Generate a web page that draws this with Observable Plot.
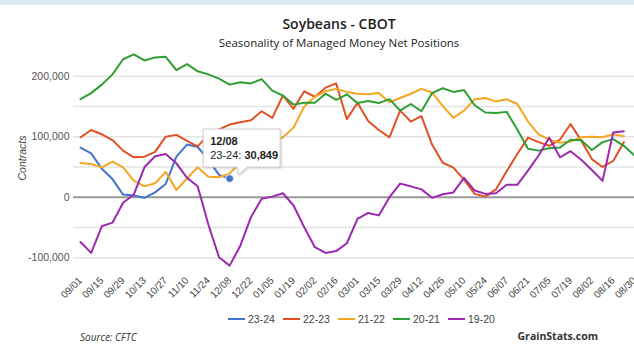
<!DOCTYPE html>
<html><head><meta charset="utf-8">
<script src="https://cdn.jsdelivr.net/npm/d3@7"></script>
<script src="https://cdn.jsdelivr.net/npm/@observablehq/plot@0.6"></script>
<style>
body{margin:0;background:#fff;}
#wrap{position:relative;width:634px;height:358px;overflow:hidden;font-family:"Open Sans",sans-serif;background:#fff;}
#band{position:absolute;left:0;top:0;width:634px;height:5px;background:#dfe9f6;}
#title{position:absolute;top:15px;left:0;width:634px;padding-left:44px;box-sizing:border-box;text-align:center;font-size:14px;font-weight:600;color:#222;line-height:18px;}
#subtitle{position:absolute;top:35px;left:0;width:634px;padding-left:44px;box-sizing:border-box;text-align:center;font-size:11.5px;color:#222;line-height:16px;}
#chart{position:absolute;left:0;top:40px;}
#legend{position:absolute;top:313px;left:228px;display:flex;align-items:center;font-family:"Liberation Sans",Arial,sans-serif;font-size:10.5px;color:#444;}
#legend .it{display:flex;align-items:center;width:55px;}
#legend .sw{width:17px;height:2px;margin-right:3px;}
#source{position:absolute;top:330px;left:80px;font-style:italic;font-size:10px;color:#333;}
#brand{position:absolute;top:329px;right:36px;font-weight:700;font-size:10.5px;color:#333;}
#ylab{position:absolute;left:15px;top:152px;transform:rotate(-90deg);transform-origin:center;font-family:"Liberation Sans",Arial,sans-serif;font-style:italic;font-size:10.5px;color:#444;width:60px;margin-left:-23px;text-align:center;}
</style></head>
<body>
<div id="wrap">
  <div id="band"></div>
  <div id="title">Soybeans - CBOT</div>
  <div id="subtitle">Seasonality of Managed Money Net Positions</div>
  <div id="ylab">Contracts</div>
  <div id="chart"></div>
  <div id="legend"></div>
  <div id="source">Source: CFTC</div>
  <div id="brand">GrainStats.com</div>
</div>
<script>
const dates = ["09/01","09/08","09/15","09/22","09/29","10/06","10/13","10/20","10/27","11/03","11/10","11/17","11/24","12/01","12/08","12/15","12/22","12/29","01/05","01/12","01/19","01/26","02/02","02/09","02/16","02/23","03/01","03/08","03/15","03/22","03/29","04/05","04/12","04/19","04/26","05/03","05/10","05/17","05/24","05/31","06/07","06/14","06/21","06/28","07/05","07/12","07/19","07/26","08/02","08/09","08/16","08/23","08/30"];
const tickLabels = ["09/01","09/15","09/29","10/13","10/27","11/10","11/24","12/08","12/22","01/05","01/19","02/02","02/16","03/01","03/15","03/29","04/12","04/26","05/10","05/24","06/07","06/21","07/05","07/19","08/02","08/16","08/30"];
const yTicks = [-100000, 0, 100000, 200000];
const seriesNames = ["23-24","22-23","21-22","20-21","19-20"];

const s2324 = [82000,72500,47000,30000,4400,2700,-1000,8000,22000,67000,87000,83000,62000,37000,30849];
const s2223 = [99000,111000,104000,94500,77000,66000,67000,75000,100000,103000,93000,84000,103000,112000,120000,124000,127000,142000,131000,168000,146000,175000,166000,181000,188000,129000,156000,126000,111000,99000,143000,125000,134000,87000,57000,49000,29000,5500,1000,13000,43000,71500,98500,91000,85000,95000,121000,93500,63000,50000,60000,91000];
const s2122 = [56600,55000,49500,59000,49500,27500,18000,23000,42000,12000,31000,49500,34000,33000,39000,58000,72000,84000,92000,99000,115000,150000,166000,175000,179000,174000,171000,170000,172000,157000,164000,171000,179000,173000,151000,131000,143000,162000,164000,158000,162000,154000,125000,104000,95000,90000,92000,99000,100000,99000,104000,100600];
const s2021 = [162000,172000,186000,203000,228000,236000,226000,231000,232000,210000,220000,208000,203000,196000,186000,190000,188000,195000,176000,168000,153000,156000,156000,171000,161000,170000,155500,159000,155500,162000,143000,154000,142000,172000,180000,174000,177000,152000,140000,139000,141000,112000,80000,77000,81000,82000,95000,94000,78000,91000,96000,85000,69000];
const s1920 = [-74000,-92000,-48000,-42000,-9000,4400,49500,67600,71400,56000,32000,18000,-45000,-99000,-113000,-80000,-33000,-2600,1000,6600,-13700,-49500,-82500,-92000,-89000,-76000,-35700,-26000,-30000,0,22500,18000,13000,-1000,5000,8000,32000,11000,5500,6600,20500,20500,44000,69000,98500,66000,76000,62000,45000,27000,107000,109000];

const tipSeries = "23-24";
const tipDate = "12/08";

const seriesValues = [s2324, s2223, s2122, s2021, s1920];
const colors = ["#4374cf","#e05226","#f5a623","#2f9e33","#9b2aae"];

const rows = [];
seriesNames.forEach((name, k) => {
  seriesValues[k].forEach((v, i) => rows.push({series: name, date: dates[i], value: v}));
});

const lineMarks = seriesNames.map((name, k) =>
  Plot.line(rows.filter(r => r.series === name), {x: "date", y: "value", stroke: colors[k], strokeWidth: 2})
);
const tipRow = rows.find(r => r.series === tipSeries && r.date === tipDate);
const fmt = v => v.toLocaleString("en-US");

const plot = Plot.plot({
  width: 634,
  height: 265,
  marginLeft: 73,
  marginRight: 0,
  marginTop: 5.4,
  marginBottom: 32.6,
  style: {fontFamily: "'Liberation Sans', Arial, sans-serif", fontSize: "10px", color: "#444", background: "transparent", overflow: "visible"},
  x: {type: "point", domain: dates, padding: 0, insetLeft: 7},
  y: {domain: [-125000, 250000]},
  marks: [
    Plot.ruleY([-100000,-50000,50000,100000,150000,200000], {stroke: "#e4e4e4", strokeWidth: 1.5}),
    Plot.ruleY([0], {stroke: "#999", strokeWidth: 2}),
    Plot.axisY({ticks: yTicks, tickFormat: fmt, tickSize: 0, tickPadding: 4, label: null, fontSize: 10.5, fill: "#555"}),
    Plot.axisX({ticks: tickLabels, tickRotate: -45, tickSize: 0, tickPadding: 6, label: null, fontSize: 10, fill: "#444"}),
    ...lineMarks,
    Plot.dot([tipRow], {x: "date", y: "value", r: 4, fill: colors[0], stroke: "#fff", strokeWidth: 1})
  ]
});
document.getElementById("chart").appendChild(plot);

// tooltip positioned from the library's scales
let px, py;
try {
  px = plot.scale("x").apply(tipRow.date);
  py = plot.scale("y").apply(tipRow.value);
} catch (e) {
  px = 80 + dates.indexOf(tipRow.date) * (554 / 52);
  py = 5.4 + (250000 - tipRow.value) / 375000 * 227;
}
const svg = d3.select(plot);
const defs = svg.append("defs");
const f = defs.append("filter").attr("id","tshadow").attr("x","-20%").attr("y","-20%").attr("width","150%").attr("height","150%");
f.append("feDropShadow").attr("dx",1).attr("dy",1).attr("stdDeviation",1.2).attr("flood-color","#000").attr("flood-opacity",0.18);
const g = svg.append("g").attr("text-anchor", "start");
const bx = px - 26, by = py - 49, bw = 77, bh = 38;
g.append("path")
  .attr("d", `M${bx},${by} H${bx+bw} V${by+bh} H${px+18} L${px+9},${by+bh+8} L${px+8},${by+bh} H${bx} Z`)
  .attr("fill", "#fff").attr("stroke", "#ccc").attr("stroke-width", 1).attr("filter","url(#tshadow)");
g.append("text").attr("x", bx + 7).attr("y", by + 16).attr("text-anchor","start")
  .attr("font-family","'Liberation Sans', Arial, sans-serif").attr("font-size", 11).attr("font-weight", 700).attr("fill","#222")
  .text(tipRow.date);
const t2 = g.append("text").attr("x", bx + 7).attr("y", by + 30).attr("text-anchor","start")
  .attr("font-family","'Liberation Sans', Arial, sans-serif").attr("font-size", 11).attr("fill","#222");
t2.append("tspan").text(tipRow.series + ": ");
t2.append("tspan").attr("font-weight", 700).text(fmt(tipRow.value));

// legend
const lg = document.getElementById("legend");
seriesNames.forEach((name, k) => {
  const it = document.createElement("div"); it.className = "it";
  const sw = document.createElement("span"); sw.className = "sw"; sw.style.background = colors[k];
  const tx = document.createElement("span"); tx.textContent = name;
  it.appendChild(sw); it.appendChild(tx); lg.appendChild(it);
});
</script>
</body></html>
